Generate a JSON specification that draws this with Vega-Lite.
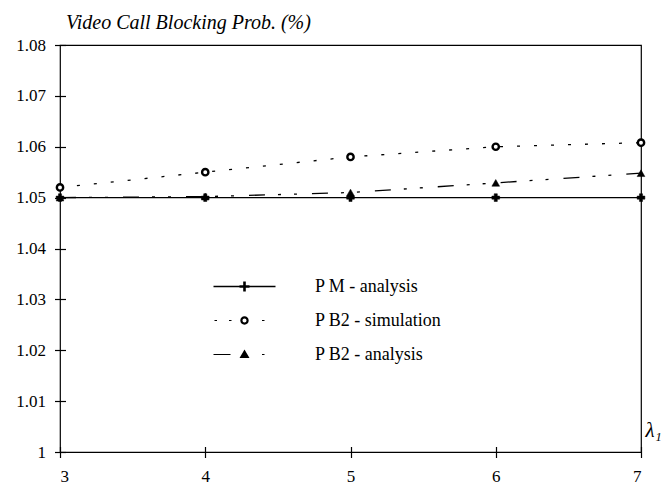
{
  "$schema": "https://vega.github.io/schema/vega-lite/v6.json",
  "width": 581,
  "height": 407,
  "autosize": {"type": "none"},
  "padding": {"left": 60, "top": 45, "right": 20, "bottom": 33},
  "background": "white",
  "config": {
    "view": {"stroke": "black", "strokeWidth": 1.2},
    "font": "Liberation Serif"
  },
  "data": {
    "values": [
      {"lambda": 3, "series": "PM", "p": 1.05},
      {"lambda": 4, "series": "PM", "p": 1.05},
      {"lambda": 5, "series": "PM", "p": 1.05},
      {"lambda": 6, "series": "PM", "p": 1.05},
      {"lambda": 7, "series": "PM", "p": 1.05},
      {"lambda": 3, "series": "SIM", "p": 1.052},
      {"lambda": 4, "series": "SIM", "p": 1.055},
      {"lambda": 5, "series": "SIM", "p": 1.058},
      {"lambda": 6, "series": "SIM", "p": 1.060},
      {"lambda": 7, "series": "SIM", "p": 1.0608},
      {"lambda": 3, "series": "AN", "p": 1.050},
      {"lambda": 4, "series": "AN", "p": 1.0502},
      {"lambda": 5, "series": "AN", "p": 1.051},
      {"lambda": 6, "series": "AN", "p": 1.0529},
      {"lambda": 7, "series": "AN", "p": 1.0548}
    ]
  },
  "encoding": {
    "x": {
      "field": "lambda", "type": "quantitative",
      "scale": {"domain": [3, 7], "nice": false, "zero": false},
      "axis": {
        "values": [3, 4, 5, 6, 7], "format": "d", "labelPadding": 11,
        "domain": false, "grid": false, "ticks": true, "tickColor": "black", "tickWidth": 1.2, "tickSize": 11, "offset": -5.5,
        "labelColor": "black", "labelFont": "Liberation Serif", "labelFontSize": 17,
        "title": "λ₁", "titleColor": "black", "titleFont": "Liberation Serif", "titleFontStyle": "italic", "titleFontWeight": "normal", "titleFontSize": 21,
        "titleAnchor": null, "titleAlign": "left", "titleBaseline": "middle", "titleX": 585, "titleY": -16
      }
    },
    "y": {
      "field": "p", "type": "quantitative",
      "scale": {"domain": [1, 1.08], "nice": false, "zero": false},
      "axis": {
        "values": [1, 1.01, 1.02, 1.03, 1.04, 1.05, 1.06, 1.07, 1.08], "format": ".2~f", "labelPadding": 9,
        "domain": false, "grid": false, "ticks": true, "tickColor": "black", "tickWidth": 1.2, "tickSize": 11, "offset": -5.5,
        "labelColor": "black", "labelFont": "Liberation Serif", "labelFontSize": 17,
        "title": "Video Call Blocking Prob. (%)", "titleColor": "black", "titleFont": "Liberation Serif", "titleAngle": 0, "titleFontStyle": "italic",
        "titleFontWeight": "normal", "titleFontSize": 20, "titleAnchor": null, "titleAlign": "left",
        "titleBaseline": "alphabetic", "titleX": 0, "titleY": -17
      }
    }
  },
  "resolve": {"scale": {"shape": "independent"}},
  "layer": [
    {
      "mark": {"type": "line", "color": "black", "strokeWidth": 1.3},
      "encoding": {
        "detail": {"field": "series", "type": "nominal"},
        "strokeDash": {
          "condition": [
            {"test": "datum.series == 'SIM'", "value": [3, 14]},
            {"test": "datum.series == 'AN'", "value": [16, 13, 3, 13, 3, 15]}
          ],
          "value": [1, 0]
        }
      }
    },
    {
      "mark": {"type": "point", "filled": true, "opacity": 1},
      "encoding": {
        "shape": {
          "field": "series", "type": "nominal",
          "scale": {"domain": ["PM", "SIM", "AN"], "range": ["cross", "circle", "triangle-up"]},
          "legend": null
        },
        "fill": {"condition": {"test": "datum.series == 'SIM'", "value": "white"}, "value": "black"},
        "stroke": {"value": "black"},
        "strokeWidth": {"condition": {"test": "datum.series == 'SIM'", "value": 2.4}, "value": 0.5},
        "size": {"condition": {"test": "datum.series == 'SIM'", "value": 40}, "value": 60}
      }
    },
    {
      "mark": {"type": "point", "filled": true, "opacity": 0, "color": "black"},
      "encoding": {
        "shape": {
          "field": "series", "type": "nominal",
          "scale": {"domain": ["PM", "SIM", "AN"], "range": [
            "M-3.1,-0.07H3.1V0.07H-3.1ZM-0.5,-0.13H0.5V0.13H-0.5ZM-0.13,-0.5H0.13V0.5H-0.13Z",
            "M-3,-0.06H-2.75V0.06H-3ZM-1.55,-0.06H-1.3V0.06H-1.55ZM1.75,-0.06H2V0.06H1.75ZM0.42,0A0.42,0.42 0 1,0 -0.42,0A0.42,0.42 0 1,0 0.42,0ZM0.2,0A0.2,0.2 0 1,1 -0.2,0A0.2,0.2 0 1,1 0.2,0Z",
            "M-3.1,-0.06H-1.4V0.06H-3.1ZM1.75,-0.06H2V0.06H1.75ZM0,-0.5L0.5,0.35H-0.5Z"
          ]},
          "legend": {
            "orient": "none", "legendX": 174, "legendY": 231, "title": null,
            "symbolSize": 400, "labelOffset": 60, "rowPadding": 14,
            "symbolOpacity": 1, "symbolFillColor": "black", "symbolStrokeColor": "black", "symbolStrokeWidth": 0.6,
            "labelFont": "Liberation Serif", "labelFontSize": 18, "labelColor": "black",
            "labelExpr": "datum.value == 'PM' ? 'P M - analysis' : datum.value == 'SIM' ? 'P B2 - simulation' : 'P B2 - analysis'"
          }
        }
      }
    }
  ]
}
